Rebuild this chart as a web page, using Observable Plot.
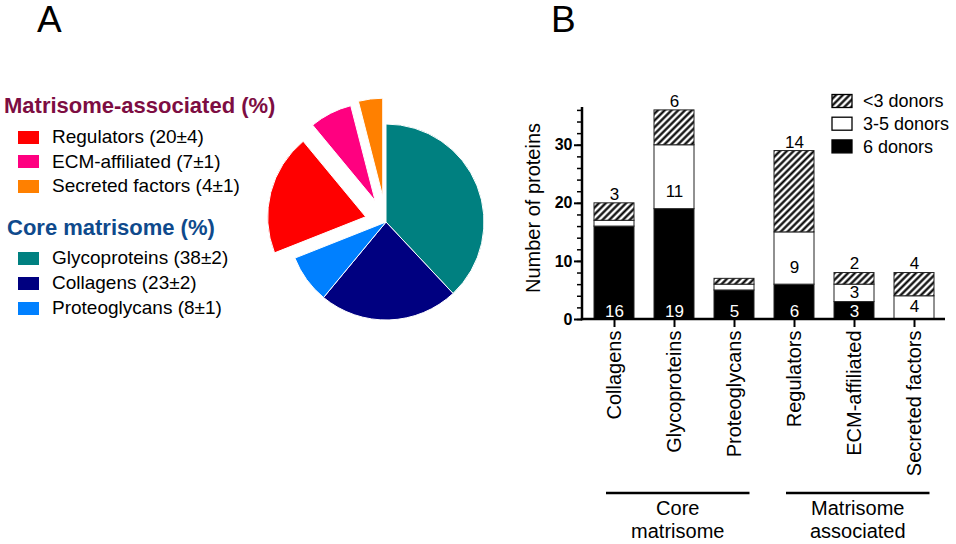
<!DOCTYPE html>
<html>
<head>
<meta charset="utf-8">
<script src="https://cdn.jsdelivr.net/npm/d3@7"></script>
<script src="https://cdn.jsdelivr.net/npm/@observablehq/plot@0.6"></script>
<style>
  html, body { margin: 0; padding: 0; background: #fff; }
  #root { position: relative; width: 956px; height: 544px; overflow: hidden;
          font-family: "Liberation Sans", Arial, Helvetica, sans-serif; color: #000; }
  .abs { position: absolute; white-space: pre; }
</style>
</head>
<body>
<div id="root"></div>
<script>
// ---------------- DATA ----------------
// Panel A: pie (clockwise from 12 o'clock)
const pieNames  = ["Glycoproteins", "Collagens", "Proteoglycans", "Regulators", "ECM-affiliated", "Secreted factors"];
const pieValues = [38, 23, 8, 20, 7, 4];
const pieErrors = [2, 2, 1, 4, 1, 1];
const pieGroups = ["core", "core", "core", "assoc", "assoc", "assoc"];
const pieGroupTitles = { assoc: "Matrisome-associated (%)", core: "Core matrisome (%)" };

// Panel B: stacked bars
const categories = ["Collagens", "Glycoproteins", "Proteoglycans", "Regulators", "ECM-affiliated", "Secreted factors"];
const categoryGroup = [0, 0, 0, 1, 1, 1];
const groupLabels = ["Core\nmatrisome", "Matrisome\nassociated"];
const seriesNames = ["6 donors", "3-5 donors", "<3 donors"];   // bottom -> top
const donors6   = [16, 19, 5, 6, 3, 0];
const donors3to5 = [1, 11, 1, 9, 3, 4];
const donorsLt3 = [3, 6, 1, 14, 2, 4];
const yTicks = [0, 10, 20, 30];
const yMinorTicks = [0, 2, 4, 6, 8, 10, 12, 14, 16, 18, 20, 22, 24, 26, 28, 30, 32, 34, 36];
const yMax = 36.5;
const yLabel = "Number of proteins";

// ---------------- STYLES ----------------
const FONT = '"Liberation Sans", Arial, Helvetica, sans-serif';
const pieColors = { "Glycoproteins": "#008080", "Collagens": "#000080", "Proteoglycans": "#0080ff",
                    "Regulators": "#ff0000", "ECM-affiliated": "#ff0080", "Secreted factors": "#ff8000" };
const pieExplode = { "Regulators": 21, "ECM-affiliated": 24, "Secreted factors": 26 };
const groupTitleColors = { assoc: "#7d0d42", core: "#0f4a8c" };
const seriesFills = ["#000000", "#ffffff", "url(#hatch)"];

const root = document.getElementById("root");
function addDiv(text, css) {
  const d = document.createElement("div");
  d.className = "abs";
  d.textContent = text;
  Object.assign(d.style, css);
  root.appendChild(d);
  return d;
}

// Panel letters
addDiv("A", { left: "37px", top: "1px", fontSize: "37px", lineHeight: "37px" });
addDiv("B", { left: "551px", top: "1px", fontSize: "37px", lineHeight: "37px" });

// ---------------- PANEL A: legend ----------------
const pieData = pieNames.map((name, i) => ({ name, value: pieValues[i], err: pieErrors[i], group: pieGroups[i] }));
const legendLayout = [
  { group: "assoc", titleY: 106, itemY: [137, 161.5, 186] },
  { group: "core",  titleY: 228, itemY: [258, 283, 308] }
];
for (const blk of legendLayout) {
  addDiv(pieGroupTitles[blk.group], {
    left: blk.group === "assoc" ? "4px" : "7px", top: (blk.titleY - 14) + "px",
    lineHeight: "28px", fontSize: "22px", fontWeight: "bold", color: groupTitleColors[blk.group]
  });
  pieData.filter(d => d.group === blk.group).forEach((d, i) => {
    const cy = blk.itemY[i];
    const sw = document.createElement("div");
    sw.className = "abs";
    Object.assign(sw.style, { left: "18px", top: (cy - 6.5) + "px", width: "21px", height: "13px", background: pieColors[d.name] });
    root.appendChild(sw);
    addDiv(`${d.name} (${d.value}\u00b1${d.err})`, { left: "52px", top: (cy - 12) + "px", lineHeight: "24px", fontSize: "19px" });
  });
}

// ---------------- PANEL A: pie ----------------
const pieR = 98;
const piePlot = Plot.plot({
  width: 260, height: 260, margin: 0,
  style: { background: "transparent", overflow: "visible", fontFamily: FONT },
  marks: [
    (index, scales, values, dims) => {
      const cx = dims.width / 2, cy = dims.height / 2;
      const arcs = d3.pie().sort(null).value(d => d.value)(pieData);
      const arc = d3.arc().innerRadius(0).outerRadius(pieR);
      const g = d3.create("svg:g");
      g.selectAll("path").data(arcs).join("path")
        .attr("d", arc)
        .attr("fill", d => pieColors[d.data.name])
        .attr("stroke", "white")
        .attr("stroke-width", 1)
        .attr("transform", d => {
          const m = (d.startAngle + d.endAngle) / 2, o = pieExplode[d.data.name] || 0;
          return `translate(${cx + Math.sin(m) * o},${cy - Math.cos(m) * o})`;
        });
      return g.node();
    }
  ]
});
piePlot.style.position = "absolute";
piePlot.style.left = "256px";
piePlot.style.top = "92px";
root.appendChild(piePlot);

// ---------------- PANEL B: stacked bars ----------------
const seriesValues = [donors6, donors3to5, donorsLt3];
const rows = categories.flatMap((cat, i) => seriesNames.map((s, k) => ({ cat, series: s, value: seriesValues[k][i] })));

const bottomLabels = categories.map((cat, i) => ({ cat, v: donors6[i] })).filter(d => d.v >= 2);
const middleLabels = categories.map((cat, i) => ({ cat, v: donors3to5[i], y: donors6[i] + Math.min(donors3to5[i] / 2 + 0.15, 3) })).filter(d => d.v >= 2);
const topLabels = categories.map((cat, i) => ({ cat, v: donorsLt3[i], y: donors6[i] + donors3to5[i] + donorsLt3[i] })).filter(d => d.v >= 2);

const hatchDefs = () => {
  const defs = d3.create("svg:defs");
  const p = defs.append("pattern").attr("id", "hatch").attr("patternUnits", "userSpaceOnUse")
    .attr("width", 4.8).attr("height", 4.8).attr("patternTransform", "rotate(45)");
  p.append("rect").attr("width", 4.8).attr("height", 4.8).attr("fill", "white");
  p.append("line").attr("x1", 2.4).attr("x2", 2.4).attr("y1", -1).attr("y2", 5.8)
    .attr("stroke", "black").attr("stroke-width", 2.2);
  return defs.node();
};

const barPlot = Plot.plot({
  width: 456, height: 544,
  marginLeft: 82, marginRight: 11, marginTop: 107, marginBottom: 225,
  style: { background: "transparent", overflow: "visible", fontFamily: FONT, color: "black" },
  x: { domain: categories, paddingInner: 0.338, paddingOuter: 0.18 },
  y: { domain: [0, yMax] },
  color: { domain: seriesNames, range: seriesFills },
  marks: [
    hatchDefs,
    Plot.barY(rows, Plot.stackY({ x: "cat", y: "value", fill: "series", stroke: "#222", strokeWidth: 1 })),
    Plot.text(bottomLabels, { x: "cat", y: 0, text: d => String(d.v), dy: -8, fill: "white", fontSize: 17 }),
    Plot.text(middleLabels, { x: "cat", y: "y", text: d => String(d.v), fill: "black", fontSize: 17 }),
    Plot.text(topLabels, { x: "cat", y: "y", text: d => String(d.v), dy: -9, fill: "black", fontSize: 17 }),
    Plot.axisY({ ticks: yMinorTicks, tickSize: 5, tickFormat: () => "", label: null, strokeWidth: 1.5 }),
    Plot.axisY({ ticks: yTicks, tickSize: 8, tickPadding: 2, fontSize: 16, fontWeight: "bold", label: null, strokeWidth: 2 }),
    Plot.axisX({ tickRotate: -90, tickSize: 8, tickPadding: 3, fontSize: 20, label: null, strokeWidth: 2 }),
    // axis lines, y title, group brackets, legend
    (index, scales, values, dims) => {
      const { x, y, color } = scales;
      const g = d3.create("svg:g").attr("font-family", FONT);
      g.append("line").attr("x1", dims.marginLeft).attr("x2", dims.marginLeft)
        .attr("y1", y(yMax)).attr("y2", y(0) + 1.25).attr("stroke", "black").attr("stroke-width", 2.5);
      g.append("line").attr("x1", dims.marginLeft - 1.25).attr("x2", dims.width - dims.marginRight)
        .attr("y1", y(0)).attr("y2", y(0)).attr("stroke", "black").attr("stroke-width", 2.5);
      // y title
      g.append("text").attr("transform", `translate(${dims.marginLeft - 49},${(y(0) + y(yMax)) / 2 - 5}) rotate(-90)`)
        .attr("text-anchor", "middle").attr("dy", "0.35em").attr("font-size", 20).text(yLabel);
      // group brackets
      const bw = typeof x.bandwidth === "function" ? x.bandwidth() : 40;
      groupLabels.forEach((lab, gi) => {
        const cats = categories.filter((c, i) => categoryGroup[i] === gi);
        const x1 = x(cats[0]) + 12, x2 = x(cats[cats.length - 1]) + bw - 4.5;
        const ly = dims.height - 51;
        g.append("line").attr("x1", x1).attr("x2", x2).attr("y1", ly).attr("y2", ly)
          .attr("stroke", "black").attr("stroke-width", 2.5);
        const t = g.append("text").attr("text-anchor", "middle").attr("font-size", 20);
        lab.split("\n").forEach((line, li) => {
          t.append("tspan").attr("x", (x1 + x2) / 2).attr("y", ly + 15 + li * 23).attr("dy", "0.35em").text(line);
        });
      });
      // legend
      const legendOrder = seriesNames.slice().reverse();
      legendOrder.forEach((s, i) => {
        const cy = 101 + i * 22.7;
        g.append("rect").attr("x", 332).attr("y", cy - 6.5).attr("width", 20).attr("height", 13)
          .attr("fill", color(s)).attr("stroke", "black").attr("stroke-width", 1.3);
        g.append("text").attr("x", 363).attr("y", cy).attr("dy", "0.35em").attr("text-anchor", "start")
          .attr("font-size", 18).text(s);
      });
      return g.node();
    }
  ]
});
barPlot.style.position = "absolute";
barPlot.style.left = "500px";
barPlot.style.top = "0px";
root.appendChild(barPlot);
</script>
</body>
</html>
